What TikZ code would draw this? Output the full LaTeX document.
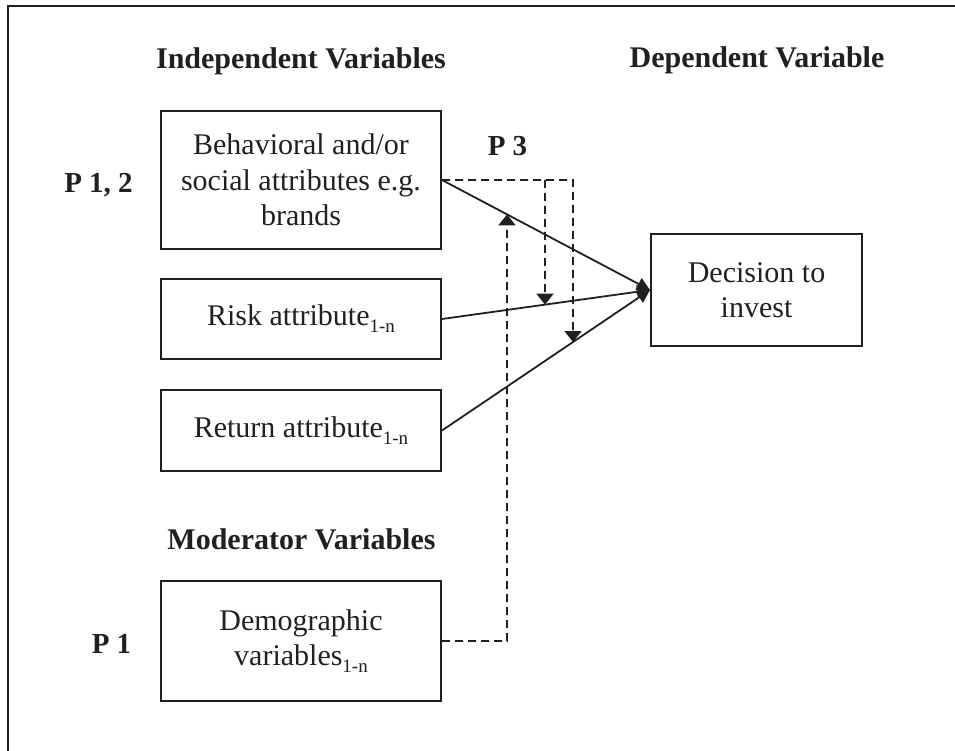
\documentclass[tikz,border=0pt]{standalone}
\usepackage{fontspec}
\setmainfont{Liberation Serif}
\usetikzlibrary{arrows.meta}
\definecolor{ink}{RGB}{35,31,32}
\newcommand{\subn}{\raisebox{-7pt}{\fontsize{19}{19}\selectfont 1-n}}
\begin{document}
\begin{tikzpicture}[x=1pt,y=-1pt,
  every node/.style={text=ink},
  box/.style={draw=ink, line width=2pt, minimum width=280pt, align=center, inner sep=0pt, font=\fontsize{30}{35.5}\selectfont},
  head/.style={font=\fontsize{30}{36}\selectfont\bfseries, anchor=base},
  plabel/.style={font=\fontsize{29}{35}\selectfont\bfseries, anchor=base},
  link/.style={draw=ink, line width=1.8pt, -{Triangle[length=13pt,width=13pt]}},
  dline/.style={draw=ink, line width=1.8pt, dash pattern=on 8pt off 5pt},
  modlink/.style={dline, -{Triangle[length=11pt,width=17pt]}},
]
\useasboundingbox (0,0) rectangle (955,751);
\draw[ink, line width=2pt] (8,751) -- (8,6) -- (955,6);

\node[box, minimum height=138pt] (b1) at (301,180) {Behavioral and/or\\social attributes e.g.\\brands};
\node[box, minimum height=80pt] (b2) at (301,319) {Risk attribute\subn};
\node[box, minimum height=81pt] (b3) at (301,430.5) {Return attribute\subn};
\node[box, minimum height=120pt] (b4) at (301,641) {Demographic\\variables\subn};
\node[box, minimum width=211pt, minimum height=112pt] (dec) at (756.5,290) {Decision to\\invest};

\node[head] (h1) at (301,69) {Independent Variables};
\node[head] (h2) at (757,68) {Dependent Variable};
\node[head] (h3) at (301.5,549) {Moderator Variables};
\node[plabel] (p12) at (98.5,193) {P 1, 2};
\node[plabel] (p3) at (507.5,156) {P 3};
\node[plabel] (p1) at (111.5,653) {P 1};

\draw[link] (b1.east) -- (dec.west);
\draw[link] (b2.east) -- (dec.west);
\draw[link] (b3.east) -- (dec.west);

\coordinate (ja) at (545,180);
\coordinate (jaa) at (545,400);
\coordinate (jb) at (573,180);
\coordinate (jbb) at (573,500);
\coordinate (mx) at (507,0);
\coordinate (mt) at (507,700);

\draw[modlink] (b1.east) -- (jb) -- (intersection of jb--jbb and b3.east--dec.west);
\draw[modlink] (ja) -- (intersection of ja--jaa and b2.east--dec.west);
\draw[modlink] (b4.east) -- (b4.east -| mx) -- (intersection of mx--mt and b1.east--dec.west);
\end{tikzpicture}
\end{document}
